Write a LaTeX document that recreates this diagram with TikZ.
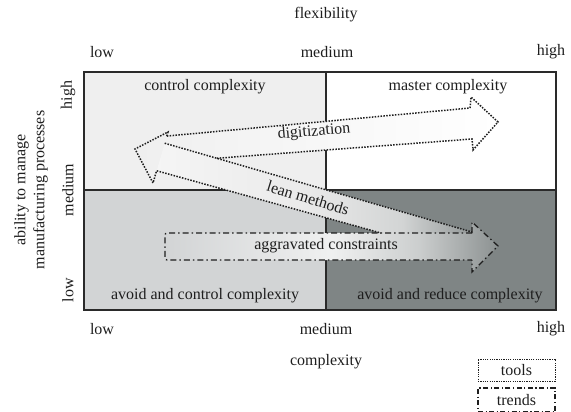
\documentclass[tikz,border=0pt]{standalone}
\usepackage{fontspec}
\setmainfont{Liberation Serif}
\usetikzlibrary{calc}
\definecolor{quadTL}{HTML}{EFEFEF}
\definecolor{quadBL}{HTML}{D2D4D5}
\definecolor{quadBR}{HTML}{7F8585}
\definecolor{ink}{HTML}{1E1E1E}
\definecolor{frame}{HTML}{2A2A2A}

% fill of the lean-methods band: light on the left, darker toward its tip
\pgfdeclarehorizontalshading{leanshade}{100bp}{color(0bp)=(white!96!black); color(25bp)=(white!96!black);
  color(48bp)=(white!92!black); color(64bp)=(quadBR!35!white); color(75bp)=(quadBR!85!white); color(100bp)=(quadBR!85!white)}
% fill of the aggravated-constraints arrow
\pgfdeclarehorizontalshading{aggshade}{100bp}{color(0bp)=(quadBL); color(25bp)=(quadBL);
  color(50bp)=(white!88!quadBR); color(63bp)=(quadBR!40!white); color(75bp)=(quadBR!90!white); color(100bp)=(quadBR!90!white)}

\begin{document}
\begin{tikzpicture}[x=1pt,y=-1pt,
  font=\fontsize{16}{18}\selectfont,
  every node/.style={text=ink, inner sep=0pt},
  quadline/.style={draw=frame, line width=1.3pt},
  dotline/.style={draw=ink, line width=1.5pt, dash pattern=on 1.5pt off 1.4pt},
  dashdotline/.style={draw=ink, line width=1.3pt, dash pattern=on 6pt off 3pt on 1.5pt off 3pt},
  legendbox/.style={minimum width=77pt, minimum height=22pt, inner sep=0pt}]
\useasboundingbox (0,0) rectangle (571,412);

% quadrants of the matrix
\fill[quadTL] (84,72) rectangle (326,190);
\fill[white]  (326,72) rectangle (556,190);
\fill[quadBL] (84,190) rectangle (326,310);
\fill[quadBR] (326,190) rectangle (556,310);
\draw[quadline] (84,72) rectangle (556,310);
\draw[quadline] (326,72) -- (326,310);
\draw[quadline] (84,190) -- (556,190);

% key points of the arrows
\coordinate (T)   at (135,149);
\coordinate (HC1) at (168,132);
\coordinate (HC2) at (153,183);
\coordinate (DS1) at ($(HC1)!0.08!(HC2)$);
\coordinate (LT1) at ($(HC1)!0.22!(HC2)$);
\coordinate (LB1) at ($(HC1)!0.76!(HC2)$);
\coordinate (DT2) at (470,108);
\coordinate (RH1) at (471,97);
\coordinate (RT)  at (498,122);
\coordinate (RH2) at (473,150);
\coordinate (DB2) at (472,139);
\coordinate (DB1) at (220,158);
\coordinate (LT2) at (472,232);
\coordinate (LBd) at (262,200);
\coordinate (AG1) at (165,233);
\coordinate (AG2) at (472,233);
\coordinate (AG3) at (472,222);
\coordinate (AGT) at (498,246);
\coordinate (AG4) at (472,272);
\coordinate (AG5) at (472,260);
\coordinate (AG6) at (165,260);
\coordinate (J)   at (intersection of DB2--DB1 and LT1--LT2);
\coordinate (LB2) at (intersection of LB1--LBd and AG1--AG2);

% fills
\shade[left color=quadTL, right color=white]
  (T) -- (HC1) -- (DS1) -- (DT2) -- (RH1) -- (RT) -- (RH2) -- (DB2) -- (J) -- (LT1) -- (LB1) -- (HC2) -- cycle;
\shade[shading=leanshade] (LT1) -- (LT2) -- (AG2) -- (LB2) -- (LB1) -- cycle;
\shade[shading=aggshade] (AG1) -- (AG2) -- (AG3) -- (AGT) -- (AG4) -- (AG5) -- (AG6) -- cycle;

% outlines of the tool arrows
\draw[dotline] (DS1) -- (HC1) -- (T) -- (HC2) -- (LB1) -- (LB2);
\draw[dotline] (DS1) -- (DT2) -- (RH1) -- (RT) -- (RH2) -- (DB2) -- (J);
\draw[dotline] (LT1) -- (LT2);

% outline of the trend arrow
\draw[dashdotline, rounded corners=2pt] (AG2) -- (AG1) -- (AG6) -- (AG5);
\draw[dashdotline] (AG2) -- (AG3) -- (AGT) -- (AG4) -- (AG5);

% arrow labels
\node[rotate=5]   (digi) at (314,132) {digitization};
\node[rotate=-17] (lean) at (308,198) {lean methods};
\node (aggr) at (326,246) {aggravated constraints};

% quadrant labels
\node (q1) at (205,87)  {control complexity};
\node (q2) at (448,87)  {master complexity};
\node (q3) at (205,296) {avoid and control complexity};
\node (q4) at (450,296) {avoid and reduce complexity};

% axis labels
\node (flex) at (326,15) {flexibility};
\node (tlow) at (102,52) {low};
\node (tmed) at (327,52) {medium};
\node (thig) at (551,52) {high};
\node (blow) at (102,329) {low};
\node (bmed) at (326,329) {medium};
\node (bhig) at (551,329) {high};
\node (cplx) at (326,362) {complexity};
\node[rotate=90] (lhig) at (68,95)  {high};
\node[rotate=90] (lmed) at (68,190) {medium};
\node[rotate=90] (llow) at (68,290) {low};
\node[rotate=90, align=center, font=\fontsize{16}{19}\selectfont] (abil) at (31,190)
  {ability to manage\\manufacturing processes};

% legend
\node[legendbox, draw=ink, line width=1pt, dash pattern=on 1.2pt off 1.1pt] (tools) at (516.5,370) {tools};
\node[legendbox, draw=ink, line width=1.1pt, dash pattern=on 5pt off 2.5pt on 1.2pt off 2.5pt, minimum height=24pt] (trends) at (516.5,400) {trends};
\end{tikzpicture}
\end{document}
